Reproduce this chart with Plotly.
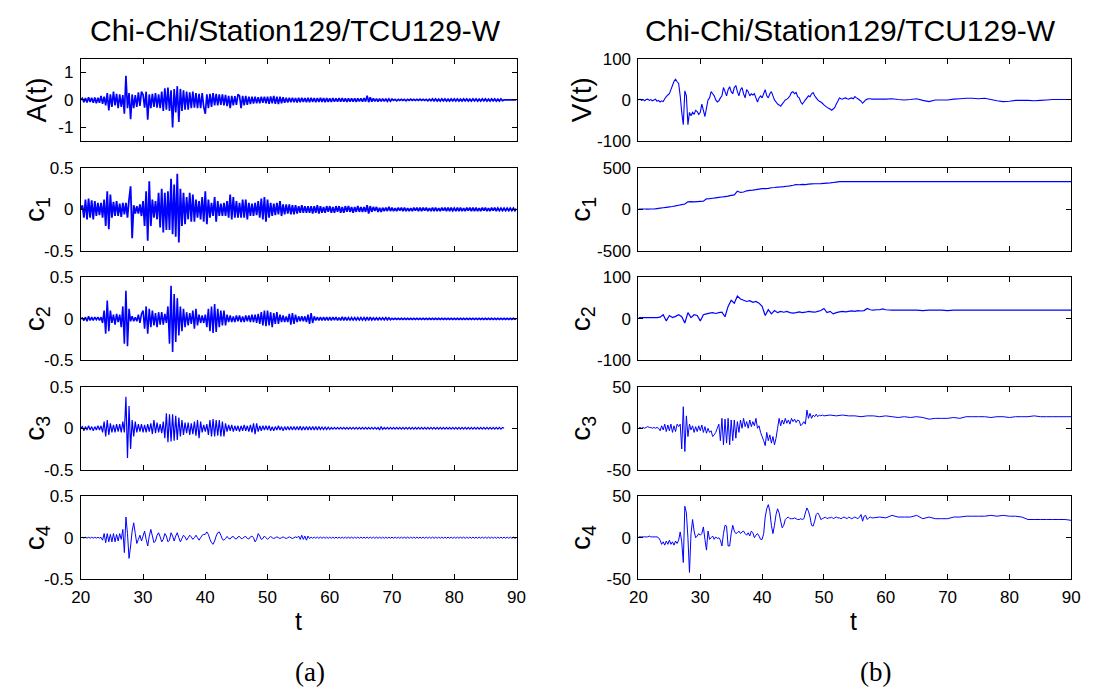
import plotly.graph_objects as go

# ------------------------------------------------------------------ data
# dense records: samples every 0.25 s from t = 20 s
acc = [
    0.0, 0.06, -0.08, 0.07, -0.09, 0.1, -0.07, 0.08, -0.1, 0.09, -0.12, 0.08,
    -0.1, 0.15, -0.14, 0.12, -0.2, 0.25, -0.38, 0.2, -0.25, 0.3, -0.2, 0.22,
    -0.3, 0.2, -0.25, 0.18, -0.5, 0.88, -0.3, 0.25, -0.7, 0.2, -0.3, 0.18,
    -0.25, 0.28, -0.22, 0.3, 0.2, -0.28, 0.3, -0.72, 0.2, -0.3, 0.22, -0.25,
    0.25, -0.28, 0.2, -0.3, 0.3, -0.4, 0.42, -0.35, 0.45, -0.4, 0.35, -1.0,
    0.4, -0.45, 0.5, -0.8, 0.4, -0.4, 0.35, -0.35, 0.3, -0.35, 0.28, -0.3,
    0.3, -0.28, 0.25, -0.3, 0.22, -0.3, 0.25, -0.25, -0.5, 0.2, -0.3, 0.22,
    -0.25, 0.25, -0.2, 0.22, -0.2, 0.2, -0.18, 0.2, -0.2, 0.18, -0.22, 0.15,
    -0.3, 0.15, -0.2, 0.14, -0.18, 0.2, 0.15, -0.3, 0.15, -0.2, 0.15, -0.18,
    0.12, -0.15, 0.12, -0.13, 0.12, -0.12, 0.1, -0.12, 0.12, -0.1, 0.12, -0.12,
    0.12, -0.14, 0.13, -0.12, 0.15, -0.14, 0.12, -0.15, 0.12, -0.12, 0.1, -0.1,
    0.08, -0.09, 0.08, -0.08, 0.08, -0.08, 0.07, -0.09, 0.08, -0.08, 0.08, -0.07,
    0.07, -0.08, 0.08, -0.08, 0.08, -0.07, 0.07, -0.08, 0.07, -0.07, 0.08, -0.07,
    0.07, -0.08, 0.07, -0.07, 0.06, -0.07, 0.07, -0.06, 0.06, -0.06, 0.07, -0.06,
    0.07, -0.06, 0.06, -0.07, 0.06, -0.06, 0.06, -0.06, 0.06, -0.07, 0.06, -0.05,
    0.06, -0.06, 0.07, -0.06, 0.15, -0.08, 0.1, -0.06, 0.06, -0.05, 0.05, -0.06,
    0.05, -0.05, 0.05, -0.05, 0.05, -0.05, 0.04, -0.05, 0.03, -0.02, 0.02, -0.03,
    0.02, -0.02, 0.02, -0.02, 0.02, -0.03, 0.02, -0.02, 0.03, -0.02, 0.02, -0.02,
    0.02, -0.02, 0.03, -0.02, 0.02, -0.02, 0.02, -0.03, 0.03, -0.03, 0.04, -0.03,
    0.04, -0.04, 0.03, -0.04, 0.04, -0.03, 0.04, -0.04, 0.03, -0.04, 0.04, -0.03,
    0.04, -0.04, 0.04, -0.04, 0.03, -0.04, 0.04, -0.03, 0.04, -0.04, 0.03, -0.04,
    0.04, -0.03, 0.04, -0.04, 0.03, -0.04, 0.04, -0.03, 0.04, -0.04, 0.03, -0.04,
    0.04, -0.03, 0.04, -0.04, 0.03, -0.04, 0.04, -0.03, 0.0, 0.0, 0.0, 0.0,
    0.0, 0.0, 0.0, 0.0, 0.0,
]

c1_acc = [
    0.0, 0.05, -0.1, 0.12, -0.12, 0.13, -0.1, 0.11, -0.12, 0.1, -0.08, 0.08,
    -0.07, 0.08, -0.1, 0.12, -0.2, 0.22, -0.24, 0.18, -0.1, 0.09, -0.08, 0.1,
    -0.08, 0.07, -0.09, 0.08, -0.06, 0.08, -0.1, 0.12, 0.28, -0.35, 0.05, -0.05,
    0.04, -0.05, 0.06, -0.08, 0.1, -0.2, 0.22, -0.38, 0.34, -0.2, 0.12, -0.1,
    0.1, -0.12, 0.2, -0.22, 0.25, -0.28, 0.2, -0.25, 0.22, -0.25, 0.37, -0.3,
    0.3, -0.33, 0.43, -0.4, 0.25, -0.2, 0.2, -0.18, 0.15, -0.12, 0.2, -0.15,
    0.18, -0.15, 0.12, -0.1, 0.1, -0.12, 0.15, -0.15, 0.22, -0.18, 0.12, -0.1,
    0.08, -0.08, 0.15, -0.15, 0.1, -0.08, 0.07, -0.08, 0.08, -0.08, 0.1, -0.1,
    0.18, -0.12, 0.15, -0.1, 0.1, -0.1, 0.08, -0.1, 0.12, -0.1, 0.12, -0.12,
    0.08, -0.08, 0.07, -0.08, 0.08, -0.07, 0.1, -0.1, 0.13, -0.12, 0.15, -0.15,
    0.12, -0.1, 0.08, -0.08, 0.07, -0.07, 0.08, -0.06, 0.1, -0.08, 0.06, -0.06,
    0.06, -0.05, 0.06, -0.06, 0.05, -0.06, 0.05, -0.05, 0.04, -0.04, 0.05, -0.04,
    0.04, -0.04, 0.04, -0.04, 0.04, -0.05, 0.04, -0.04, 0.05, -0.05, 0.04, -0.04,
    0.03, -0.04, 0.04, -0.03, 0.04, -0.04, 0.03, -0.04, 0.04, -0.03, 0.04, -0.04,
    0.03, -0.04, 0.04, -0.03, 0.04, -0.03, 0.03, -0.04, 0.03, -0.03, 0.04, -0.03,
    0.03, -0.03, 0.03, -0.03, 0.05, -0.05, 0.04, -0.03, 0.03, -0.02, 0.03, -0.03,
    0.02, -0.03, 0.02, -0.02, 0.02, -0.02, 0.03, -0.02, 0.02, -0.02, 0.015, -0.02,
    0.02, -0.015, 0.02, -0.02, 0.02, -0.02, 0.015, -0.02, 0.015, -0.02, 0.02, -0.015,
    0.02, -0.02, 0.02, -0.02, 0.02, -0.015, 0.02, -0.02, 0.015, -0.02, 0.02, -0.02,
    0.02, -0.02, 0.015, -0.02, 0.02, -0.015, 0.02, -0.02, 0.02, -0.02, 0.02, -0.015,
    0.015, -0.02, 0.02, -0.02, 0.02, -0.02, 0.015, -0.02, 0.02, -0.015, 0.02, -0.02,
    0.02, -0.02, 0.02, -0.02, 0.015, -0.02, 0.02, -0.015, 0.02, -0.02, 0.015, -0.02,
    0.02, -0.015, 0.02, -0.02, 0.015, -0.015, 0.015, -0.015, 0.015, -0.015, 0.015, -0.015,
    0.015, -0.015, 0.015, -0.015, 0.01,
]

c2_acc = [
    0.0, 0.01, -0.02, 0.02, -0.03, 0.03, -0.02, 0.02, -0.02, 0.02, -0.01, 0.02,
    -0.02, 0.02, -0.05, 0.1, -0.18, 0.22, -0.15, 0.1, -0.05, 0.05, -0.07, 0.06,
    -0.04, 0.05, -0.1, 0.15, -0.3, 0.34, -0.33, 0.12, -0.03, 0.03, -0.03, 0.02,
    -0.03, 0.05, -0.05, 0.06, 0.1, -0.12, 0.15, -0.18, 0.12, -0.1, 0.1, -0.08,
    0.07, -0.1, 0.08, -0.07, 0.08, -0.07, 0.06, -0.05, 0.15, -0.3, 0.4, -0.4,
    0.3, -0.28, 0.25, -0.2, 0.15, -0.15, 0.12, -0.1, 0.08, -0.08, 0.07, -0.06,
    0.1, -0.12, 0.12, -0.08, 0.05, -0.05, 0.04, -0.05, 0.05, -0.1, 0.12, -0.15,
    0.15, -0.17, 0.18, -0.16, 0.12, -0.1, 0.1, -0.08, 0.1, -0.08, 0.05, -0.04,
    0.04, -0.04, 0.03, -0.04, 0.04, -0.03, 0.04, -0.04, 0.03, -0.04, 0.04, -0.03,
    0.04, -0.04, 0.05, -0.04, 0.05, -0.05, 0.06, -0.06, 0.08, -0.08, 0.1, -0.09,
    0.1, -0.08, 0.08, -0.1, 0.07, -0.06, 0.08, -0.06, 0.05, -0.04, 0.04, -0.04,
    0.03, -0.04, 0.06, -0.07, 0.07, -0.06, 0.05, -0.04, 0.03, -0.03, 0.03, -0.03,
    0.03, -0.04, 0.05, -0.06, 0.07, -0.05, 0.03, -0.02, 0.02, -0.02, 0.02, -0.02,
    0.02, -0.02, 0.02, -0.02, 0.02, -0.02, 0.02, -0.015, 0.02, -0.02, 0.015, -0.02,
    0.025, -0.02, 0.02, -0.02, 0.015, -0.015, 0.015, -0.015, 0.015, -0.015, 0.015, -0.015,
    0.015, -0.015, 0.015, -0.015, 0.02, -0.02, 0.02, -0.015, 0.012, -0.012, 0.012, -0.012,
    0.012, -0.012, 0.012, -0.012, 0.015, -0.012, 0.012, -0.012,
    0.007, -0.007, 0.007, -0.007, 0.007, -0.007, 0.007, -0.007, 0.007, -0.007, 0.007, -0.007,
    0.007, -0.007, 0.007, -0.007, 0.007, -0.007, 0.007, -0.007, 0.007, -0.007, 0.007, -0.007,
    0.007, -0.007, 0.007, -0.007, 0.007, -0.007, 0.007, -0.007, 0.007, -0.007, 0.007, -0.007,
    0.007, -0.007, 0.007, -0.007, 0.007, -0.007, 0.007, -0.007, 0.007, -0.007, 0.007, -0.007,
    0.007, -0.007, 0.007, -0.007, 0.007, -0.007, 0.007, -0.007, 0.007, -0.007, 0.007, -0.007,
    0.007, -0.007, 0.007, -0.007, 0.007, -0.007, 0.007, -0.007, 0.007, -0.007, 0.007, -0.007,
    0.007, -0.007, 0.007, -0.007, 0.007, -0.007, 0.007, -0.007, 0.0,
]

c3_acc = [
    0.0, 0.02, -0.03, 0.02, -0.02, 0.03, -0.02, 0.02, -0.03, 0.02, -0.02, 0.03,
    -0.02, 0.03, -0.05, 0.08, -0.1, 0.1, -0.08, 0.06, -0.05, 0.04, -0.05, 0.05,
    -0.04, 0.05, -0.05, 0.08, -0.05, 0.38, -0.36, 0.27, -0.25, 0.1, -0.1, 0.08,
    -0.05, 0.05, -0.04, 0.05, -0.05, 0.04, -0.05, 0.05, -0.04, 0.06, -0.07, 0.1,
    -0.06, 0.07, -0.05, 0.05, -0.06, 0.08, -0.12, 0.18, -0.17, 0.17, -0.16, 0.17,
    -0.15, 0.15, -0.14, 0.13, -0.1, 0.1, -0.08, 0.07, -0.06, 0.07, -0.08, 0.06,
    -0.07, 0.08, -0.09, 0.1, -0.12, 0.08, -0.05, 0.04, -0.04, 0.05, -0.08, 0.1,
    -0.1, 0.11, -0.1, 0.1, -0.09, 0.1, -0.1, 0.08, -0.1, 0.06, -0.04, 0.04,
    -0.03, 0.04, -0.04, 0.03, -0.03, 0.03, -0.04, 0.03, -0.03, 0.04, -0.03, 0.03,
    -0.04, 0.04, -0.05, 0.06, -0.07, 0.06, -0.04, 0.03, -0.03, 0.03, -0.02, 0.03,
    -0.02, 0.03, -0.03, 0.02, -0.03, 0.02, -0.02, 0.03, -0.02, 0.02, -0.03, 0.02,
    -0.02, 0.02, -0.02, 0.02, -0.02, 0.02, -0.02, 0.02, -0.02, 0.025, -0.025, 0.02,
    -0.02, 0.02, -0.02, 0.02, -0.02, 0.02, -0.02, 0.02, -0.02, 0.02, -0.015, 0.015,
    -0.015, 0.015, -0.015, 0.015, -0.015, 0.01, -0.01, 0.01, -0.01, 0.01, -0.01, 0.01,
    -0.01, 0.01, -0.01, 0.01, -0.01, 0.01, -0.01, 0.01, -0.01, 0.01, -0.01, 0.01,
    -0.01, 0.01, -0.01, 0.01, -0.01, 0.01, -0.01, 0.01, -0.01, 0.01, -0.01, 0.01,
    -0.02, 0.02, -0.015, 0.01, -0.01, 0.01, -0.01, 0.01, -0.01, 0.01, -0.01, 0.01,
    -0.01, 0.01, -0.01, 0.01, -0.01, 0.01, -0.01, 0.01, -0.01, 0.01, -0.01, 0.01,
    -0.01, 0.01, -0.01, 0.01, -0.01, 0.01, -0.01, 0.01, -0.01, 0.01, -0.01, 0.01,
    -0.01, 0.01, -0.01, 0.01, -0.01, 0.01, -0.01, 0.01, -0.01, 0.01, -0.01, 0.01,
    -0.01, 0.01, -0.01, 0.01, -0.01, 0.01, -0.01, 0.01, -0.01, 0.01, -0.01, 0.01,
    -0.01, 0.01, -0.01, 0.01, -0.01, 0.01, -0.01, 0.01, -0.01, 0.01, -0.01, 0.01,
    -0.01, 0.01, -0.01, 0.01, -0.01, 0.01, -0.01, 0.01, 0.0,
]

c4_acc = [
    0.0, 0.005, -0.005, 0.005, -0.005, 0.005, -0.005, 0.005, -0.005, 0.005, -0.005, 0.005,
    -0.005, 0.005, -0.03, 0.05, -0.06, 0.05, -0.05, 0.04, -0.05, 0.05, -0.05, 0.04,
    -0.04, 0.05, -0.02, 0.1, -0.18, 0.25, 0.05, -0.25, -0.1, 0.08, 0.18, 0.05,
    -0.07, -0.02, 0.03, -0.04, 0.02, 0.08, -0.02, -0.1, 0.02, 0.1, 0.02, -0.06,
    -0.04, 0.03, 0.06, 0.01, -0.05, -0.02, 0.05, 0.02, -0.05, -0.03, 0.06, 0.02,
    -0.04, 0.02, 0.06, 0.0, -0.05, -0.01, 0.03, 0.01, -0.03, 0.0, 0.03, 0.01,
    -0.02, 0.0, 0.03, 0.0, -0.03, 0.0, 0.03, 0.04, 0.04, 0.07, 0.04, -0.02,
    -0.06, -0.08, -0.04, 0.02, 0.06, 0.07, 0.03, -0.02, -0.03, -0.01, 0.015, -0.01,
    -0.015, 0.01, 0.015, -0.01, -0.015, 0.01, 0.015, -0.01, -0.01, 0.01, 0.015, -0.01,
    -0.015, 0.01, 0.02, 0.0, -0.05, -0.02, 0.05, 0.02, -0.02, -0.01, 0.02, 0.0,
    -0.02, 0.0, 0.015, 0.0, -0.01, 0.0, 0.01, 0.0, -0.01, 0.0, 0.01, 0.0,
    -0.01, 0.0, 0.01, 0.0, -0.01, 0.0, 0.01, 0.0, 0.02, -0.02, 0.03, -0.02,
    0.02, -0.03, 0.02, -0.01,
    0.007, -0.007, 0.007, -0.007, 0.007, -0.007, 0.007, -0.007, 0.007, -0.007, 0.007, -0.007,
    0.007, -0.007, 0.007, -0.007, 0.007, -0.007, 0.007, -0.007, 0.007, -0.007, 0.007, -0.007,
    0.007, -0.007, 0.007, -0.007, 0.007, -0.007, 0.007, -0.007, 0.007, -0.007, 0.007, -0.007,
    0.007, -0.007, 0.007, -0.007, 0.007, -0.007, 0.007, -0.007, 0.007, -0.007, 0.007, -0.007,
    0.007, -0.007, 0.007, -0.007, 0.007, -0.007, 0.007, -0.007, 0.007, -0.007, 0.007, -0.007,
    0.007, -0.007, 0.007, -0.007, 0.007, -0.007, 0.007, -0.007, 0.007, -0.007, 0.007, -0.007,
    0.007, -0.007, 0.007, -0.007, 0.007, -0.007, 0.007, -0.007, 0.007, -0.007, 0.007, -0.007,
    0.007, -0.007, 0.007, -0.007, 0.007, -0.007, 0.007, -0.007, 0.007, -0.007, 0.007, -0.007,
    0.007, -0.007, 0.007, -0.007, 0.007, -0.007, 0.007, -0.007, 0.007, -0.007, 0.007, -0.007,
    0.007, -0.007, 0.007, -0.007, 0.007, -0.007, 0.007, -0.007, 0.007, -0.007, 0.007, -0.007,
    0.007, -0.007, 0.007, -0.007, 0.007, -0.007, 0.007, -0.007, 0.007, -0.007, 0.007, -0.007,
    0.0,
]

# velocity record: every 0.25 s from 20 s to 57.75 s, then every 1 s from 58 s to 90 s
vel_q = [
    0, 2, -1, 1, -2, 1, 2, -1, 1, -2, 0, 2, -3, -1, -5, -2,
    -4, 3, 8, 12, 15, 25, 35, 45, 50, 44, 40, 10, -30, -60, 22, 10,
    -60, -30, -38, -30, -35, -25, -28, -35, -30, -10, -25, -40, -20, 0, 5, 20,
    15, 10, 0, -5, -2, 5, 10, 30, 20, 10, 25, 32, 20, 15, 30, 35,
    20, 10, 25, 30, 15, 5, 25, 20, 10, 15, 12, 15, 5, -5, 5, 10,
    5, 15, 25, 10, 5, 15, 20, 10, 0, -5, -10, -12, -15, -10, -5, 0,
    2, 5, 10, 18, 20, 15, 18, 8, 5, -5, -10, -5, 0, 5, 10, 8,
    15, 18, 10, 5, 0, -3, -5, -8, -12, -15, -18, -20, -22, -25, -22, -18,
    -10, -3, 5, 3, 2, 4, 5, 3, 2, 4, 5, 3, 8, 5, 3, 0,
    -3, -8, -4, 0, 2, 3, 3, 2,
]
vel_tail = [2, 2, 2, 3, 1, 0, 1, 3, -1, -4, 0, 0, 0, 2, 3, 4, 4, 3, 4, 1,
            -2, -4, -3, -1, -1, -1, -2, -1, 0, 1, 1, 1, 1]

# c1 of velocity: every 0.5 s from 20 s to 53 s, then constant to 90 s
c1_vel_h = [
    5, 5, 5, 4, 5, 5, 10, 15, 20, 25, 30, 35, 42, 50, 58, 65,
    92, 95, 92, 95, 98, 100, 128, 130, 135, 140, 145, 150, 155, 160, 170, 175,
    220, 205, 210, 225, 230, 232, 238, 245, 250, 250, 255, 262, 265, 270, 272, 275,
    280, 285, 292, 300, 298, 302, 300, 305, 308, 310, 310, 312, 315, 318, 320, 325,
    330, 335, 335,
]
c1_vel_tail = [335]

# c2 of velocity: every 0.5 s from 20 s to 59.5 s, then every 1 s from 60 s to 90 s
c2_vel_h = [
    3, 3, 3, 3, 3, 3, 3, 4, 10, -5, 8, 3, 6, 10, 5, -10,
    15, 3, 10, 8, -5, 10, 12, 14, 15, 13, 15, 16, 5, 30, 45, 38,
    55, 48, 45, 42, 44, 40, 42, 38, 30, 8, 22, 12, 20, 15, 18, 16,
    18, 15, 14, 15, 17, 15, 16, 18, 17, 16, 18, 20, 25, 15, 18, 12,
    15, 17, 18, 17, 18, 19, 18, 20, 19, 20, 25, 22, 21, 22, 22, 24,
]
c2_vel_tail = [22, 21, 21, 21, 21, 21, 20, 21, 21, 21, 20, 21, 21, 21, 21, 21,
               21, 21, 21, 21, 21, 21, 21, 21, 21, 21, 21, 21, 21, 21, 21]

# c3 of velocity: every 0.25 s from 20 s to 49.75 s, then every 1 s from 50 s to 90 s
c3_vel_q = [
    0, 1, 0, 1, 0, 1, 2, 1, 1, 0, 1, 0, 1, 0, -3, 3,
    -2, 5, -4, 4, -3, 5, -5, 3, -4, 5, 2, 5, -25, 26, -28, 15,
    -10, 5, -2, 3, -5, 2, -4, 3, -3, 4, -5, 2, -6, 0, -5, -3,
    -10, -8, -5, 0, 5, -15, 12, -20, 11, -18, 12, -20, 10, -15, 10, -12,
    8, -5, 10, 0, 12, 2, 8, 0, 10, 2, 8, 3, 12, 0, 3, -5,
    -10, -15, -21, -5, -15, -8, -18, -10, -20, -12, 0, 12, 3, 10, 5, 12,
    6, 10, 5, 12, 8, 11, 7, 10, 9, 3, 5, 8, 5, 22, 12, 18,
    12, 16, 14, 17, 14, 16, 15, 16,
]
c3_vel_tail = [15, 16, 15, 16, 15, 15, 14, 15, 15, 14, 15, 14, 13, 14, 13, 14,
               13, 11, 12, 12, 12, 13, 12, 14, 14, 14, 14, 13, 14, 14, 13, 14,
               14, 14, 15, 14, 14, 14, 14, 14, 14]

# c4 of velocity: every 0.25 s from 20 s to 57.75 s, then every 1 s from 58 s to 90 s
c4_vel_q = [
    1, 1, 1, 1, 1, 1, 1, 2, 1, 1, 1, 1, 1, 0, -3, -8,
    -5, -9, -4, -8, -3, -8, -5, -9, -4, -7, -3, 7, -5, -30, 38, 30,
    0, -42, 5, 22, 8, 0, 2, 5, 3, 5, 13, -2, -15, 8, -2, 0,
    2, -2, 1, -1, 0, -3, -10, 5, 15, 14, -10, -10, 5, 15, 8, 5,
    6, 8, 5, 7, 8, 5, 3, 6, 2, 8, 6, 0, 3, 5, 2, -2,
    -2, 5, 25, 35, 40, 32, 15, 5, 15, 28, 35, 30, 20, 12, 15, 22,
    24, 25, 23, 23, 23, 24, 23, 22, 22, 23, 22, 23, 30, 36, 32, 25,
    15, 14, 20, 28, 30, 27, 22, 23, 24, 25, 23, 24, 24, 25, 23, 24,
    25, 24, 24, 23, 24, 25, 24, 23, 25, 24, 23, 24, 25, 24, 23, 25,
    28, 20, 26, 27, 22, 24, 25, 24,
]
c4_vel_tail = [24, 25, 24, 27, 25, 25, 25, 27, 23, 25, 23, 23, 23, 25, 25, 26,
               26, 26, 26, 27, 26, 27, 26, 26, 25, 22, 22, 22, 22, 22, 22, 22, 21]

title_text = "Chi-Chi/Station129/TCU129-W"
x_ticks = [20, 30, 40, 50, 60, 70, 80, 90]
left_labels = ["A(t)", "c<sub>1</sub>", "c<sub>2</sub>", "c<sub>3</sub>", "c<sub>4</sub>"]
right_labels = ["V(t)", "c<sub>1</sub>", "c<sub>2</sub>", "c<sub>3</sub>", "c<sub>4</sub>"]
left_yranges = [[-1.5, 1.5], [-0.5, 0.5], [-0.5, 0.5], [-0.5, 0.5], [-0.5, 0.5]]
left_yticks = [[-1, 0, 1], [-0.5, 0, 0.5], [-0.5, 0, 0.5], [-0.5, 0, 0.5], [-0.5, 0, 0.5]]
left_yticktext = [["-1", "0", "1"]] + [["-0.5", "0", "0.5"]] * 4
right_yranges = [[-100, 100], [-500, 500], [-100, 100], [-50, 50], [-50, 50]]
right_yticks = [[-100, 0, 100], [-500, 0, 500], [-100, 0, 100], [-50, 0, 50], [-50, 0, 50]]
right_yticktext = [[str(v) for v in tv] for tv in right_yticks]


def times(t0, dt, vals):
    return [t0 + dt * i for i in range(len(vals))]


def joined(parts):
    xs, ys = [], []
    for t0, dt, vals in parts:
        xs += times(t0, dt, vals)
        ys += list(vals)
    return xs, ys


left_series = [joined([(20.0, 0.25, s)]) for s in (acc, c1_acc, c2_acc, c3_acc, c4_acc)]
right_series = [
    joined([(20.0, 0.25, vel_q), (58.0, 1.0, vel_tail)]),
    joined([(20.0, 0.5, c1_vel_h), (90.0, 1.0, c1_vel_tail)]),
    joined([(20.0, 0.5, c2_vel_h), (60.0, 1.0, c2_vel_tail)]),
    joined([(20.0, 0.25, c3_vel_q), (50.0, 1.0, c3_vel_tail)]),
    joined([(20.0, 0.25, c4_vel_q), (58.0, 1.0, c4_vel_tail)]),
]

# ------------------------------------------------------------------ layout
W, H = 1094, 698
COLS = [(73, 516), (640, 1080)]
TOPS = [51, 163.5, 276, 388.5, 501]
PH = 85
FONT = "Liberation Sans, Arial, Helvetica, sans-serif"
BLUE = "#0000FF"

fig = go.Figure()
layout = dict(
    width=W, height=H, margin=dict(l=0, r=0, t=0, b=0),
    paper_bgcolor="white", plot_bgcolor="white", showlegend=False,
    font=dict(family=FONT, color="black", size=17),
)
annotations = []

columns = [
    (left_series, left_yranges, left_yticks, left_yticktext, left_labels, [1.7, 1.8, 1.6, 1.2, 1.0]),
    (right_series, right_yranges, right_yticks, right_yticktext, right_labels, [1.1, 1.2, 1.2, 1.0, 1.0]),
]
for c, (series, yr, yt, ytt, labels, widths) in enumerate(columns):
    x0, x1 = COLS[c]
    for i in range(5):
        k = c * 5 + i + 1
        top = TOPS[i]
        ydom = [1 - (top + PH) / H, 1 - top / H]
        xs, ys = series[i]
        fig.add_trace(go.Scatter(x=xs, y=ys, mode="lines",
                                 line=dict(color=BLUE, width=widths[i], simplify=False),
                                 xaxis=f"x{k}", yaxis=f"y{k}", hoverinfo="skip"))
        layout[f"xaxis{k}"] = dict(
            domain=[x0 / W, x1 / W], anchor=f"y{k}", range=[20, 90],
            tickmode="array", tickvals=x_ticks, ticktext=[str(v) for v in x_ticks],
            showticklabels=(i == 4), ticks="inside", ticklen=5, tickwidth=1,
            tickcolor="black", showline=True, linecolor="black", linewidth=1,
            mirror="ticks", showgrid=False, zeroline=False, ticklabelstandoff=3,
            tickfont=dict(family=FONT, size=17, color="black"),
        )
        layout[f"yaxis{k}"] = dict(
            domain=ydom, anchor=f"x{k}", range=yr[i],
            tickmode="array", tickvals=yt[i], ticktext=ytt[i],
            ticks="inside", ticklen=5, tickwidth=1, tickcolor="black",
            showline=True, linecolor="black", linewidth=1, mirror="ticks",
            showgrid=False, zeroline=False, ticklabelstandoff=3,
            tickfont=dict(family=FONT, size=17, color="black"),
        )
        annotations.append(dict(
            text=labels[i], textangle=-90, xref="paper", yref="paper",
            x=(28 if c == 0 else 583) / W, y=1 - (top + PH / 2) / H,
            xanchor="center", yanchor="middle", showarrow=False,
            font=dict(family=FONT, size=28, color="black"),
        ))

for cx in (291, 856):
    annotations.append(dict(text=title_text, xref="paper", yref="paper",
                            x=cx / W, y=1 - 22 / H, xanchor="center", yanchor="middle",
                            showarrow=False, font=dict(family=FONT, size=30, color="black")))
for cx in (294, 859):
    annotations.append(dict(text="t", xref="paper", yref="paper",
                            x=cx / W, y=1 - 629 / H, xanchor="center", yanchor="middle",
                            showarrow=False, font=dict(family=FONT, size=25, color="black")))
for cx, lab in ((306, "(a)"), (881, "(b)")):
    annotations.append(dict(text=lab, xref="paper", yref="paper",
                            x=cx / W, y=1 - 682 / H, xanchor="center", yanchor="middle",
                            showarrow=False,
                            font=dict(family="Liberation Serif, Times New Roman, serif",
                                      size=27, color="black")))

layout["annotations"] = annotations
fig.update_layout(**layout)
fig.write_html("out.html")
